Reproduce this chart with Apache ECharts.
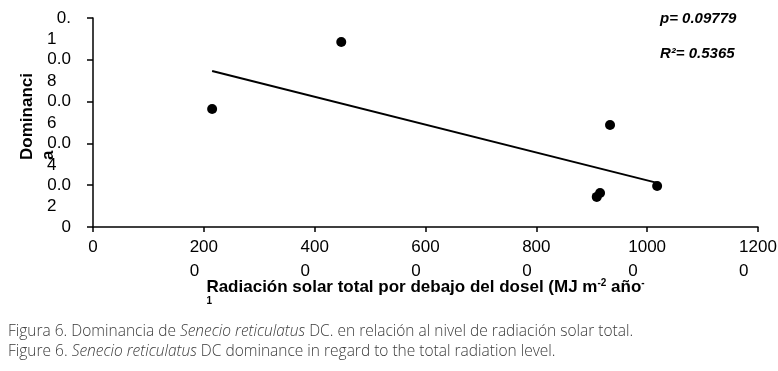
<!DOCTYPE html>
<html><head><meta charset="utf-8">
<script src="https://cdn.jsdelivr.net/npm/echarts@6/dist/echarts.min.js"></script>
<style>html,body{margin:0;padding:0;background:#fff}#c{width:778px;height:371px}</style>
</head><body><div id="c"></div>
<script>
// ---- data ----
const radiacion = [215, 448, 933, 1018, 909, 915];
const dominancia = [0.0565, 0.0885, 0.0488, 0.0196, 0.0144, 0.0163];
const trendX = [215, 1018];
const trendY = [0.0746, 0.0211];
const xTickLabels = ['0', '200\n0', '400\n0', '600\n0', '800\n0', '1000\n0', '1200\n0'];
const yTickLabels = ['0', '0.0\n2', '0.0\n4', '0.0\n6', '0.0\n8', '0.\n1'];
const yTitleLines = ['Dominanci', 'a'];
const xTitleParts = ['Radiación solar total por debajo del dosel (MJ m', '-2', ' año', '-', '1'];
const statP = 'p= 0.09779';
const statR2 = 'R²= 0.5365';
const caption1 = ['Figura 6. Dominancia de ', 'Senecio reticulatus', ' DC. en relación al nivel de radiación solar total.'];
const caption2 = ['Figure 6. ', 'Senecio reticulatus', ' DC dominance in regard to the total radiation level.'];

const FONT = '"Liberation Sans", Arial, sans-serif';
const CAP_FONT = '"Open Sans", Lato, sans-serif';
const chart = echarts.init(document.getElementById('c'), null, {renderer: 'canvas'});

const tickFont = {fontFamily: FONT, fontSize: 17, color: '#000'};
const yLine = (i, k) => (yTickLabels[i].split('\n')[k] || '');

const option = {
  animation: false,
  backgroundColor: '#fff',
  grid: {left: 93, right: 20, top: 18, bottom: 144, outerBoundsMode: 'none', containLabel: false},
  xAxis: {
    type: 'value', min: 0, max: 1200, interval: 200,
    axisLine: {show: true, onZero: false, lineStyle: {color: '#000', width: 1.5}},
    axisTick: {show: true, length: 5, lineStyle: {color: '#000', width: 1.5}},
    splitLine: {show: false},
    axisLabel: {
      margin: 8, lineHeight: 24, showMinLabel: true, showMaxLabel: true, hideOverlap: false, ...tickFont,
      formatter: function (v, i) {
        const parts = xTickLabels[i].split('\n');
        return parts.length > 1 ? parts[0] + '\n{l|' + parts[1] + '}' : parts[0];
      },
      rich: {l: {...tickFont, lineHeight: 24, align: 'left'}}
    },
    name: '{t|' + xTitleParts[0] + '}{s|' + xTitleParts[1] + '}{t|' + xTitleParts[2] + '}{s|' + xTitleParts[3] + '}\n{s1|' + xTitleParts[4] + '}',
    nameLocation: 'middle', nameGap: 51, nameMoveOverlap: false,
    nameTextStyle: {
      fontFamily: FONT, fontSize: 17, fontWeight: 'bold', color: '#000', lineHeight: 18,
      rich: {
        t: {fontFamily: FONT, fontSize: 17, fontWeight: 'bold', color: '#000', lineHeight: 18},
        s: {fontFamily: FONT, fontSize: 10, fontWeight: 'bold', color: '#000', lineHeight: 18, verticalAlign: 'top'},
        s1: {fontFamily: FONT, fontSize: 10, fontWeight: 'bold', color: '#000', lineHeight: 10, align: 'left'}
      }
    }
  },
  yAxis: [
    {
      type: 'value', min: 0, max: 0.1, interval: 0.02,
      axisLine: {show: true, onZero: false, lineStyle: {color: '#000', width: 1.5}},
      axisTick: {show: true, length: 6, lineStyle: {color: '#000', width: 1.5}},
      splitLine: {show: false},
      axisLabel: {
        margin: 22, lineHeight: 21, showMinLabel: true, showMaxLabel: true, hideOverlap: false, ...tickFont,
        formatter: (v, i) => yLine(i, 0)
      },
      name: yTitleLines[0] + '\n{l|' + yTitleLines[1] + '}',
      nameLocation: 'middle', nameRotate: 90, nameGap: 34, nameMoveOverlap: false,
      nameTextStyle: {
        fontFamily: FONT, fontSize: 17, fontWeight: 'bold', color: '#000', lineHeight: 21,
        padding: [0, 0, 0, 12],
        rich: {l: {fontFamily: FONT, fontSize: 17, fontWeight: 'bold', color: '#000', lineHeight: 21, align: 'left'}}
      }
    },
    {
      // second line of each wrapped tick label
      type: 'value', min: 0, max: 0.1, interval: 0.02, position: 'left',
      axisLine: {show: false}, axisTick: {show: false}, splitLine: {show: false},
      axisLabel: {
        margin: 46, align: 'left', verticalAlign: 'top', lineHeight: 21, padding: [11, 0, 0, 0],
        showMinLabel: true, showMaxLabel: true, hideOverlap: false, ...tickFont,
        formatter: (v, i) => yLine(i, 1)
      }
    }
  ],
  series: [
    {
      type: 'line', data: trendX.map((x, i) => [x, trendY[i]]),
      symbol: 'none', lineStyle: {color: '#000', width: 2}, z: 2
    },
    {
      type: 'scatter', data: radiacion.map((x, i) => [x, dominancia[i]]),
      symbol: 'circle', symbolSize: 10, itemStyle: {color: '#000', opacity: 1}, z: 3
    }
  ],
  graphic: [
    {type: 'text', left: 660, top: 11, style: {text: statP, font: 'italic bold 15px ' + FONT, fill: '#000'}},
    {type: 'text', left: 660, top: 46, style: {text: statR2, font: 'italic bold 15px ' + FONT, fill: '#000'}},
    {type: 'text', left: 8, top: 324, style: {
      text: caption1[0] + '{i|' + caption1[1] + '}' + caption1[2],
      font: '300 15.5px ' + CAP_FONT, fill: '#3a3a3a',
      rich: {i: {fontFamily: CAP_FONT, fontSize: 15.5, fontWeight: 300, fontStyle: 'italic', fill: '#3a3a3a'}}
    }},
    {type: 'text', left: 8, top: 344, style: {
      text: caption2[0] + '{i|' + caption2[1] + '}' + caption2[2],
      font: '300 15.5px ' + CAP_FONT, fill: '#3a3a3a',
      rich: {i: {fontFamily: CAP_FONT, fontSize: 15.5, fontWeight: 300, fontStyle: 'italic', fill: '#3a3a3a'}}
    }}
  ]
};
chart.setOption(option);
</script>
</body></html>
